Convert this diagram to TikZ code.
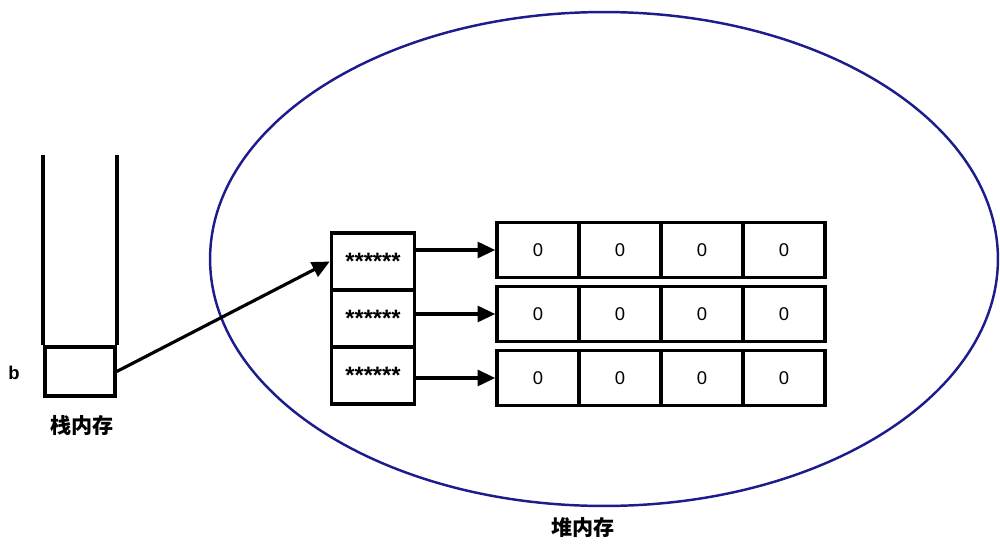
\documentclass[tikz,border=0pt]{standalone}
\usepackage{fontspec}
\setmainfont{Liberation Sans}
\newfontfamily\cjk{Noto Sans CJK SC}
\usepackage{tikz}
\usetikzlibrary{arrows.meta,positioning}
\definecolor{heapblue}{RGB}{28,28,140}
\tikzstyle{cell}  =[draw, line width=2pt, inner sep=0pt,
                    minimum width=1.64cm, minimum height=1.10cm,
                    font=\fontsize{10.5}{12}\selectfont]
\tikzstyle{slot}  =[draw, line width=2pt, inner sep=0pt,
                    minimum width=1.66cm, minimum height=1.14cm,
                    font=\bfseries\fontsize{13.5}{14}\selectfont]
\tikzstyle{ptr}   =[-{Triangle[length=10pt,width=9pt]}, line width=1.8pt]
\tikzstyle{label} =[font=\cjk\bfseries\fontsize{12}{14}\selectfont]

\begin{document}
\begin{tikzpicture}[x=0.02cm, y=-0.02cm, node distance=1.64cm, on grid]
    \useasboundingbox (0,0) rectangle (1000,551);
    % heap
    \draw[heapblue, line width=1.4pt] (604,259) ellipse [x radius=7.88cm, y radius=4.94cm];
    \node[label] (heap) at (583,527) {堆内存};

    % stack
    \node[cell, minimum width=1.40cm, minimum height=0.98cm] (b) at (80,371.5) {};
    \draw[line width=2pt] (b.north west) -- ++(0,-190);
    \draw[line width=2pt] (b.north east) -- ++(0,-190);
    \node[font=\bfseries\fontsize{10.5}{12}\selectfont] (bname) at (14,373) {b};
    \node[label] (stack) at (82,425) {栈内存};

    % pointer array
    \node[slot] (p1) at (373,261.5) {******};
    \node[slot] (p2) [below=1.14cm of p1] {******};
    \node[slot] (p3) [below=1.14cm of p2] {******};

    % rows of zeros
    \node[cell] (r11) at (538,250) {0};
    \node[cell] (r12) [right= of r11] {0};
    \node[cell] (r13) [right= of r12] {0};
    \node[cell] (r14) [right= of r13] {0};
    \node[cell] (r21) [below=1.28cm of r11] {0};
    \node[cell] (r22) [right= of r21] {0};
    \node[cell] (r23) [right= of r22] {0};
    \node[cell] (r24) [right= of r23] {0};
    \node[cell] (r31) [below=1.28cm of r21] {0};
    \node[cell] (r32) [right= of r31] {0};
    \node[cell] (r33) [right= of r32] {0};
    \node[cell] (r34) [right= of r33] {0};

    \draw[ptr] (b.east) -- (p1.west);
    \draw[ptr] (p1.east |- r11.west) -- (r11.west);
    \draw[ptr] (p2.east |- r21.west) -- (r21.west);
    \draw[ptr] (p3.east |- r31.west) -- (r31.west);
\end{tikzpicture}
\end{document}
